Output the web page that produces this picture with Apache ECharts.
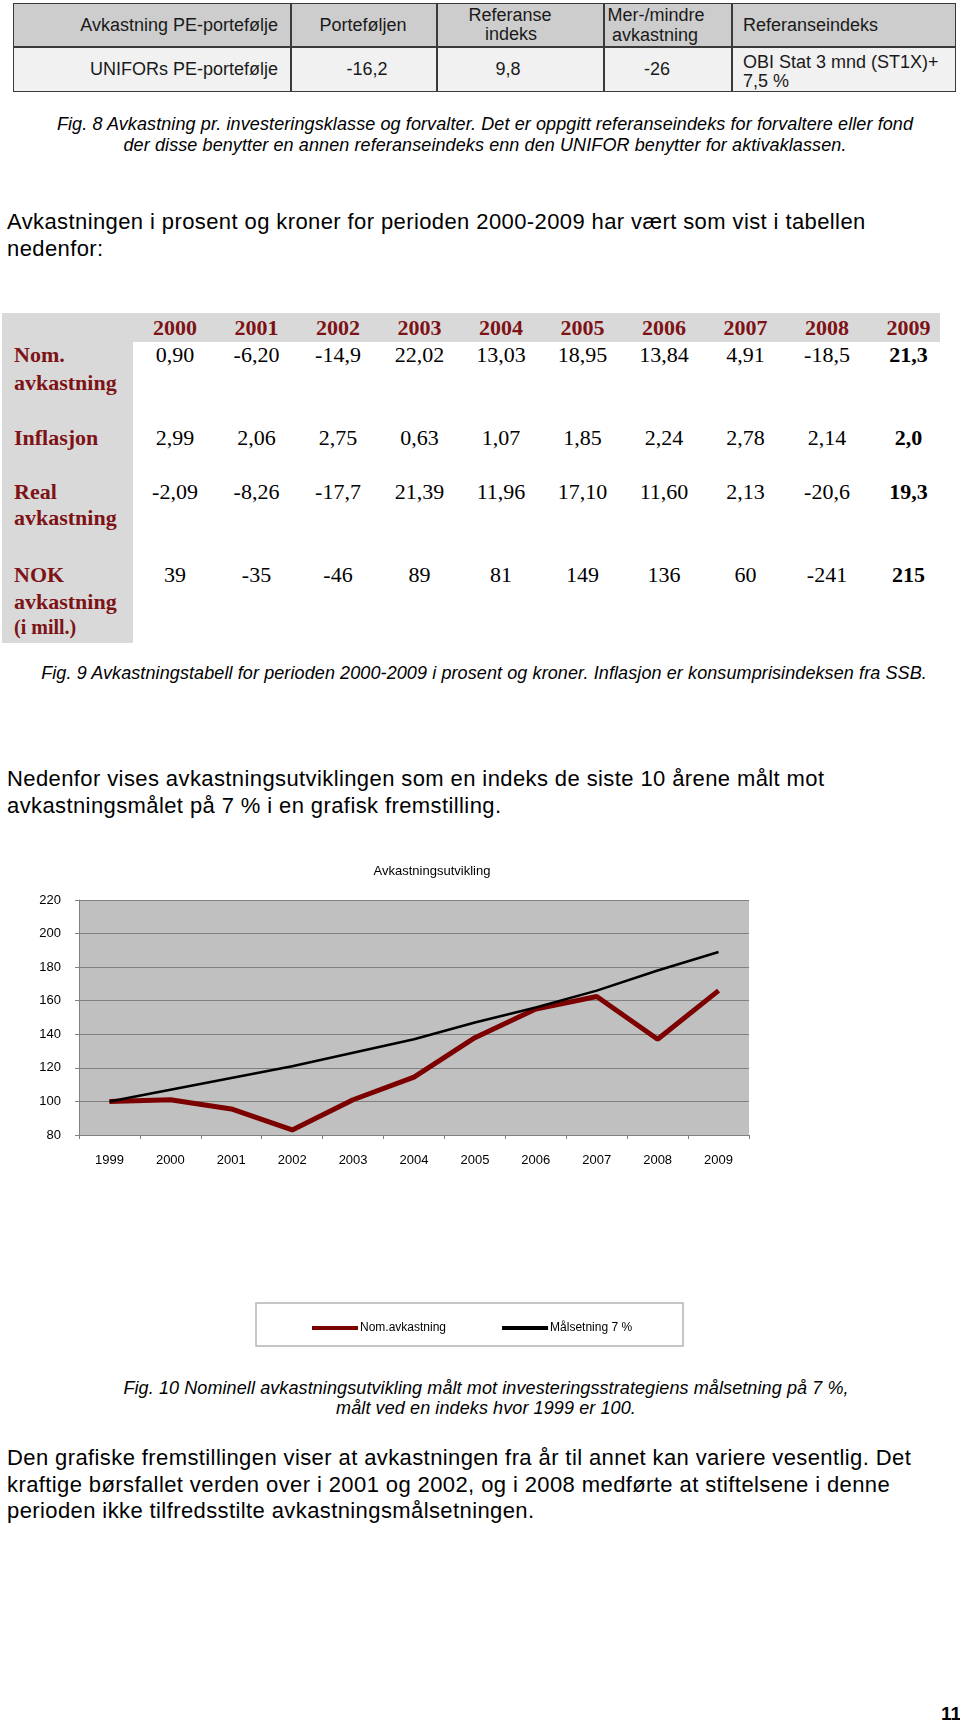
<!DOCTYPE html>
<html>
<head>
<meta charset="utf-8">
<script src="https://cdn.jsdelivr.net/npm/echarts/dist/echarts.min.js"></script>
<style>
  html, body { margin: 0; padding: 0; background: #fff; }
  #page { position: relative; width: 960px; height: 1722px; overflow: hidden; font-family: "Liberation Sans", Arial, sans-serif; color: #000; }
  .t { position: absolute; white-space: nowrap; line-height: 1; }
  .box { position: absolute; box-sizing: border-box; }
  #chart { position: absolute; left: 0; top: 840px; width: 960px; height: 520px; }
</style>
</head>
<body>
<div id="page">
  <div id="chart"></div>
</div>
<script>
// table data (Fig. 9)
var years = ['2000', '2001', '2002', '2003', '2004', '2005', '2006', '2007', '2008', '2009'];
var nomReturn = ['0,90', '-6,20', '-14,9', '22,02', '13,03', '18,95', '13,84', '4,91', '-18,5', '21,3'];
var inflation = ['2,99', '2,06', '2,75', '0,63', '1,07', '1,85', '2,24', '2,78', '2,14', '2,0'];
var realReturn = ['-2,09', '-8,26', '-17,7', '21,39', '11,96', '17,10', '11,60', '2,13', '-20,6', '19,3'];
var nokReturn = ['39', '-35', '-46', '89', '81', '149', '136', '60', '-241', '215'];

// chart data (Fig. 10), index 1999 = 100
var chartYears = ['1999', '2000', '2001', '2002', '2003', '2004', '2005', '2006', '2007', '2008', '2009'];
var nomIndex = [100, 101, 95.5, 83, 101, 114.5, 138, 155, 162.5, 137, 166];
var targetIndex = [100, 107, 114, 121, 129, 137, 147, 156, 166, 178, 189];
var yTicks = { min: 80, max: 220, step: 20 };

var page = document.getElementById('page');

// put a text at x,y (y = vertical middle); align: 'l' | 'c' | 'r'
function put(text, x, y, css, align) {
  var el = document.createElement('div');
  el.className = 't';
  el.textContent = text;
  el.style.left = x + 'px';
  el.style.top = y + 'px';
  var tx = align === 'c' ? '-50%' : (align === 'r' ? '-100%' : '0');
  el.style.transform = 'translate(' + tx + ', -50%)';
  if (css) el.style.cssText += css;
  page.appendChild(el);
  return el;
}

function rect(x, y, w, h, css) {
  var el = document.createElement('div');
  el.className = 'box';
  el.style.left = x + 'px';
  el.style.top = y + 'px';
  el.style.width = w + 'px';
  el.style.height = h + 'px';
  el.style.cssText += css;
  page.appendChild(el);
  return el;
}

// ---- top table (Fig. 8) ----
var tt = 'font-size:18px;color:#1a1a1a;';
rect(13, 3, 942, 44, 'background:#cdcdcd;');
rect(13, 47, 942, 44, 'background:#f1f1f1;');
rect(13, 3, 943, 89, 'border:1.5px solid #3a3a3a;');
rect(13, 46, 943, 1.5, 'background:#3a3a3a;');
[290, 436, 603, 731].forEach(function (x) {
  rect(x, 3, 1.5, 89, 'background:#3a3a3a;');
});
put('Avkastning PE-portefølje', 278, 25, tt, 'r');
put('Porteføljen', 363, 25, tt, 'c');
put('Referanse', 510, 15, tt, 'c');
put('indeks', 511, 34, tt, 'c');
put('Mer-/mindre', 656, 15, tt, 'c');
put('avkastning', 655, 35, tt, 'c');
put('Referanseindeks', 743, 25, tt, 'l');
put('UNIFORs PE-portefølje', 278, 69, tt, 'r');
put('-16,2', 367, 69, tt, 'c');
put('9,8', 508, 69, tt, 'c');
put('-26', 657, 69, tt, 'c');
put('OBI Stat 3 mnd (ST1X)+', 743, 62, tt, 'l');
put('7,5 %', 743, 81, tt, 'l');

var cap = 'font-size:18px;font-style:italic;letter-spacing:0.1px;';
put('Fig. 8 Avkastning pr. investeringsklasse og forvalter. Det er oppgitt referanseindeks for forvaltere eller fond', 485, 124, cap, 'c');
put('der disse benytter en annen referanseindeks enn den UNIFOR benytter for aktivaklassen.', 485, 145, cap, 'c');

var body = 'font-size:22px;letter-spacing:0.4px;';
put('Avkastningen i prosent og kroner for perioden 2000-2009 har vært som vist i tabellen', 7, 222, body, 'l');
put('nedenfor:', 7, 249, body, 'l');

// ---- data table (Fig. 9) ----
var red = '#7d1316';
rect(2, 313, 938, 29, 'background:#d9d9d9;');
rect(2, 313, 131, 330, 'background:#d9d9d9;');
var lab = 'font-size:22px;font-weight:bold;color:' + red + ';font-family:"Liberation Serif",serif;';
put('Nom.', 14, 355, lab, 'l');
put('avkastning', 14, 383, lab, 'l');
put('Inflasjon', 14, 438, lab, 'l');
put('Real', 14, 492, lab, 'l');
put('avkastning', 14, 518, lab, 'l');
put('NOK', 14, 575, lab, 'l');
put('avkastning', 14, 602, lab, 'l');
put('(i mill.)', 14, 627, lab + 'font-size:20px;', 'l');

var rows = [[nomReturn, 355], [inflation, 438], [realReturn, 492], [nokReturn, 575]];
years.forEach(function (yr, i) {
  var cx = 175 + 81.5 * i;
  put(yr, cx, 328, lab, 'c');
  rows.forEach(function (r) {
    var bold = i === years.length - 1 ? 'font-weight:bold;' : '';
    put(r[0][i], cx, r[1], 'font-size:22px;font-family:"Liberation Serif",serif;' + bold, 'c');
  });
});

put('Fig. 9 Avkastningstabell for perioden 2000-2009 i prosent og kroner. Inflasjon er konsumprisindeksen fra SSB.', 484, 673, cap, 'c');

put('Nedenfor vises avkastningsutviklingen som en indeks de siste 10 årene målt mot', 7, 779, body, 'l');
put('avkastningsmålet på 7 % i en grafisk fremstilling.', 7, 806, body, 'l');

put('Fig. 10 Nominell avkastningsutvikling målt mot investeringsstrategiens målsetning på 7 %,', 486, 1388, cap, 'c');
put('målt ved en indeks hvor 1999 er 100.', 486, 1408, cap, 'c');

put('Den grafiske fremstillingen viser at avkastningen fra år til annet kan variere vesentlig. Det', 7, 1458, body, 'l');
put('kraftige børsfallet verden over i 2001 og 2002, og i 2008 medførte at stiftelsene i denne', 7, 1485, body, 'l');
put('perioden ikke tilfredsstilte avkastningsmålsetningen.', 7, 1511, body, 'l');

put('11', 961, 1713, 'font-size:19px;font-weight:bold;', 'r');

// ---- chart ----
var chart = echarts.init(document.getElementById('chart'), null, { renderer: 'canvas' });

var option = {
  animation: false,
  textStyle: {
    fontFamily: 'Liberation Sans, Arial, sans-serif',
    color: '#000'
  },
  title: {
    text: 'Avkastningsutvikling',
    left: 427,
    textAlign: 'center',
    top: 20,
    textStyle: {
      fontSize: 13,
      fontWeight: 'normal',
      color: '#000'
    }
  },
  grid: {
    show: true,
    left: 79,
    right: 211,
    top: 60,
    bottom: 225,
    backgroundColor: '#c0c0c0',
    borderWidth: 0
  },
  legend: {
    left: 307,
    top: 477,
    icon: 'rect',
    itemWidth: 46,
    itemHeight: 4,
    itemGap: 56,
    textStyle: {
      fontSize: 12,
      color: '#000',
      padding: [0, 0, 0, -3]
    },
    data: ['Nom.avkastning', 'Målsetning 7 %']
  },
  graphic: [{
    type: 'rect',
    shape: { x: 256, y: 463, width: 427, height: 43 },
    style: { fill: 'none', stroke: '#b4b4b4', lineWidth: 1.5 },
    silent: true
  }],
  xAxis: {
    type: 'category',
    data: chartYears,
    boundaryGap: true,
    axisLine: { lineStyle: { color: '#808080', width: 1 } },
    axisTick: { show: true, length: 4, lineStyle: { color: '#808080' } },
    axisLabel: { fontSize: 13, color: '#000', margin: 19 }
  },
  yAxis: {
    type: 'value',
    min: yTicks.min,
    max: yTicks.max,
    interval: yTicks.step,
    axisLine: { show: true, lineStyle: { color: '#808080', width: 1 } },
    axisTick: { show: true, length: 4, lineStyle: { color: '#808080' } },
    axisLabel: { fontSize: 13, color: '#000', margin: 18 },
    splitLine: {
      show: true,
      lineStyle: { color: '#808080', width: 1 }
    }
  },
  series: [{
    name: 'Nom.avkastning',
    type: 'line',
    data: nomIndex,
    showSymbol: false,
    symbol: 'none',
    color: '#7c0000',
    lineStyle: { color: '#7c0000', width: 5 }
  }, {
    name: 'Målsetning 7 %',
    type: 'line',
    data: targetIndex,
    showSymbol: false,
    symbol: 'none',
    color: '#000',
    lineStyle: { color: '#000', width: 2.5 }
  }]
};

chart.setOption(option);
</script>
</body>
</html>
